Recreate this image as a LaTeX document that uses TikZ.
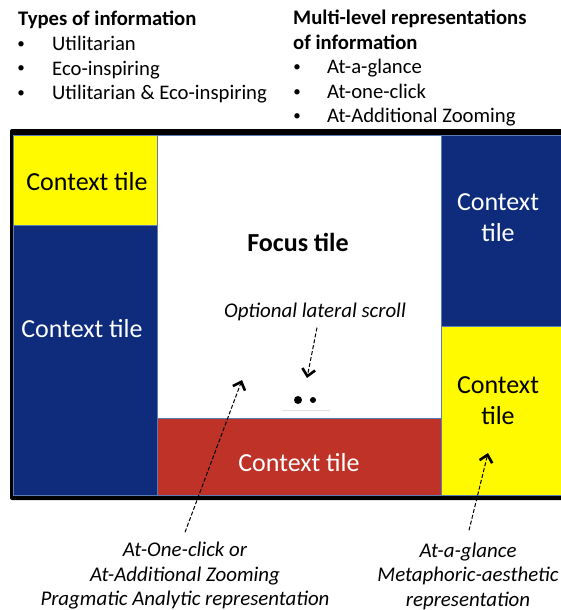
\documentclass[tikz,border=0pt]{standalone}
\usepackage{fontspec}
\setmainfont{Carlito}
\usetikzlibrary{arrows.meta}
\definecolor{tileyellow}{RGB}{255,250,0}
\definecolor{tileblue}{RGB}{14,43,124}
\definecolor{tilered}{RGB}{190,50,39}
\definecolor{tileedge}{RGB}{90,125,180}
\begin{document}
\begin{tikzpicture}[x=1pt, y=-1pt,
        tile/.style={draw=tileedge, line width=0.7pt},
        tiletext/.style={font=\fontsize{26}{31}\selectfont, align=center, inner sep=0pt},
        listtext/.style={font=\fontsize{20.7}{24}\selectfont, anchor=base west, inner sep=0pt},
        listhead/.style={listtext, font=\fontsize{20.7}{24}\selectfont\bfseries},
        bullet/.style={font=\fontsize{15}{24}\selectfont, anchor=base, inner sep=0pt},
        note/.style={font=\fontsize{20.9}{24.5}\selectfont\itshape, align=center, inner sep=0pt},
        pointer/.style={dash pattern=on 4pt off 2pt, line width=1pt,
            -{Straight Barb[length=7pt, width=13pt, line width=2.6pt]}}]
    \useasboundingbox (0,0) rectangle (561,610);
    % lists above the screen
    \node[listhead] (types) at (18,26) {Types of information};
    \foreach[count=\i] \ltxt in {Utilitarian,Eco-inspiring,Utilitarian \& Eco-inspiring} {
        \node[bullet] (types-b-\i) at (21,24+24.5*\i) {\textbullet};
        \node[listtext] (types-\i) at (52,26+24.5*\i) {\ltxt};
    }
    \node[listhead] (levels) at (293,25) {Multi-level representations};
    \node[listhead] (levels-0) at (293,49) {of information};
    \foreach[count=\i] \ltxt in {At-a-glance,At-one-click,At-Additional Zooming} {
        \node[bullet] (levels-b-\i) at (297,47+24.5*\i) {\textbullet};
        \node[listtext] (levels-\i) at (327,49+24.5*\i) {\ltxt};
    }
    % screen and tiles
    \fill[rounded corners=2pt] (10,129) rectangle (570,500);
    \filldraw[tile, fill=tileyellow] (13,135) rectangle (157,225);
    \filldraw[tile, fill=tileblue] (13,225) rectangle (157,495);
    \filldraw[tile, fill=white] (157,135) rectangle (441,418);
    \filldraw[tile, fill=tilered] (157,418) rectangle (441,495);
    \filldraw[tile, fill=tileblue] (441,135) rectangle (568,326);
    \filldraw[tile, fill=tileyellow] (441,326) rectangle (568,495);
    \node[tiletext] (ctx-tl) at (87,182) {Context tile};
    \node[tiletext, text=white] (ctx-l) at (82,329) {Context tile};
    \node[tiletext, font=\fontsize{26}{31}\selectfont\bfseries] (focus) at (298,242) {Focus tile};
    \node[tiletext, text=white] (ctx-b) at (299,463) {Context tile};
    \node[tiletext, text=white] (ctx-tr) at (498,218) {Context\\tile};
    \node[tiletext] (ctx-br) at (498,401) {Context\\tile};
    % lateral scroll
    \fill (298,400) circle (4);
    \fill (313,400) circle (3);
    \draw[black!12, line width=1pt] (282,410) -- (330,410);
    \node[note, anchor=base] (scroll) at (315,317) {Optional lateral scroll};
    \coordinate (scroll-tip) at (307,378);
    \draw[pointer] ([xshift=2pt, yshift=-7pt]scroll.south) -- (scroll-tip);
    % representations below
    \node[note] (oneclick) at (185,576) {At-One-click or\\At-Additional Zooming\\Pragmatic Analytic representation};
    \node[note] (glance) at (468,576) {At-a-glance\\Metaphoric-aesthetic\\representation};
    \coordinate (oneclick-tip) at (242,380);
    \coordinate (glance-tip) at (488,453);
    \draw[pointer] ([yshift=10pt]oneclick.north) -- (oneclick-tip);
    \draw[pointer] ([xshift=1pt, yshift=12pt]glance.north) -- (glance-tip);
\end{tikzpicture}
\end{document}
